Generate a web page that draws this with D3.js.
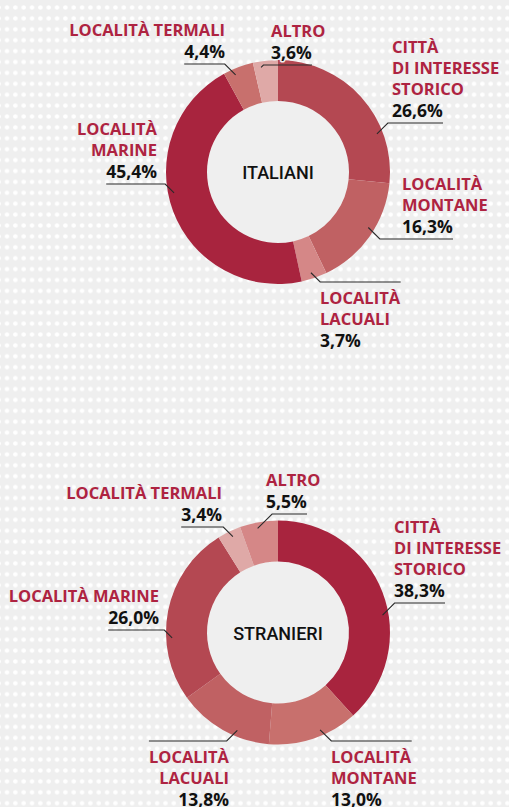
<!DOCTYPE html>
<html>
<head>
<meta charset="utf-8">
<script src="https://cdn.jsdelivr.net/npm/d3@7/dist/d3.min.js"></script>
<style>
  html, body { margin: 0; padding: 0; background: #efefef; }
  svg { display: block; }
</style>
</head>
<body>
<svg id="chart" width="509" height="807"></svg>
<script>
// Destinazioni dei turisti per tipologia di località (%)
const categories = [
  "CITTÀ DI INTERESSE STORICO",
  "LOCALITÀ MONTANE",
  "LOCALITÀ LACUALI",
  "LOCALITÀ MARINE",
  "LOCALITÀ TERMALI",
  "ALTRO"
];
const groups = ["ITALIANI", "STRANIERI"];
const italiani = [26.6, 16.3, 3.7, 45.4, 4.4, 3.6];
const stranieri = [38.3, 13.0, 13.8, 26.0, 3.4, 5.5];

// Shades from darkest (largest share) to lightest
const shades = ["#a8243e", "#b44852", "#c06163", "#c8706d", "#d58787", "#dfa9a7"];

const W = 509, H = 807;
const BG = "#efefef";
const RED = "#ae2341";
const LINE_H = 21;
const outerR = 112, innerR = 71, leaderR = 106;
const LABEL_FONT = "'Open Sans', 'Noto Sans', sans-serif";

// Label layout per donut: text lines, anchor, first baseline, where on the slice the leader lands
const layouts = {
  ITALIANI: {
    cx: 278, cy: 172,
    labels: [
      { lines: ["CITTÀ", "DI INTERESSE", "STORICO"], x: 392, y: 53, anchor: "start", side: "above", t: 0.72 },
      { lines: ["LOCALITÀ", "MONTANE"], x: 402, y: 190, anchor: "start", side: "above", t: 0.44 },
      { lines: ["LOCALITÀ", "LACUALI"], x: 320, y: 304, anchor: "start", side: "below", t: 0.56 },
      { lines: ["LOCALITÀ", "MARINE"], x: 157, y: 135, anchor: "end", side: "above", t: 0.556 },
      { lines: ["LOCALITÀ TERMALI"], x: 225, y: 36, anchor: "end", side: "above", t: 0.33 },
      { lines: ["ALTRO"], x: 271, y: 37, anchor: "start", side: "above", t: 0.29 }
    ]
  },
  STRANIERI: {
    cx: 278, cy: 632.5,
    labels: [
      { lines: ["CITTÀ", "DI INTERESSE", "STORICO"], x: 394, y: 533, anchor: "start", side: "above", t: 0.584 },
      { lines: ["LOCALITÀ", "MONTANE"], x: 331, y: 763, anchor: "start", side: "below", t: 0.40 },
      { lines: ["LOCALITÀ", "LACUALI"], x: 229, y: 763, anchor: "end", side: "below", t: 0.36 },
      { lines: ["LOCALITÀ MARINE"], x: 159, y: 602, anchor: "end", side: "above", t: 0.35 },
      { lines: ["LOCALITÀ TERMALI"], x: 222, y: 499, anchor: "end", side: "above", t: 0.56 },
      { lines: ["ALTRO"], x: 266, y: 486, anchor: "start", side: "above", t: 0.44 }
    ]
  }
};

const fmt = v => d3.format(".1f")(v).replace(".", ",") + "%";

const svg = d3.select("#chart");

// Dotted backdrop
const defs = svg.append("defs");
const dx = 8.34, dy = 10.9;
const pat = defs.append("pattern")
  .attr("id", "dots")
  .attr("patternUnits", "userSpaceOnUse")
  .attr("x", 7 - dx / 2).attr("y", 7.5 - dy / 2)
  .attr("width", dx).attr("height", dy);
pat.append("rect").attr("width", dx).attr("height", dy).attr("fill", BG);
pat.append("circle").attr("cx", dx / 2).attr("cy", dy / 2).attr("r", 2.3).attr("fill", "#ffffff");
svg.append("rect").attr("width", W).attr("height", H).attr("fill", "url(#dots)");

const pie = d3.pie().sort(null).value(d => d.value);
const arc = d3.arc().innerRadius(innerR).outerRadius(outerR);

function drawDonut(name, values) {
  const lay = layouts[name];
  const data = categories.map((c, i) => ({ cat: c, value: values[i], i }));
  // rank -> shade
  const order = data.slice().sort((a, b) => b.value - a.value).map(d => d.i);
  const color = i => shades[order.indexOf(i)];

  const g = svg.append("g").attr("transform", `translate(${lay.cx},${lay.cy})`);
  const arcs = pie(data);

  g.append("circle").attr("r", innerR).attr("fill", BG);

  g.selectAll("path.slice")
    .data(arcs)
    .join("path")
    .attr("class", "slice")
    .attr("d", arc)
    .attr("fill", d => color(d.data.i));

  g.append("text")
    .attr("text-anchor", "middle")
    .attr("y", 7)
    .attr("font-family", "Roboto, 'Noto Sans', sans-serif")
    .attr("font-size", 18)
    .attr("font-weight", 500)
    .attr("fill", "#111")
    .text(name);

  // Labels + leaders
  const lg = svg.append("g");
  arcs.forEach((a, k) => {
    const L = lay.labels[k];
    const txt = lg.append("text")
      .attr("text-anchor", L.anchor)
      .attr("font-family", LABEL_FONT)
      .attr("font-weight", 700)
      .attr("stroke", BG).attr("stroke-width", 3)
      .attr("paint-order", "stroke")
      .attr("stroke-linejoin", "round");
    const nameSpans = L.lines.map((ln, j) =>
      txt.append("tspan").attr("x", L.x).attr("y", L.y + j * LINE_H)
        .attr("font-size", 16.5).attr("fill", RED).text(ln));
    const pctY = L.y + L.lines.length * LINE_H + 1;
    const pct = txt.append("tspan").attr("x", L.x).attr("y", pctY)
      .attr("font-size", 17.5).attr("fill", "#111")
      .text(fmt(a.data.value));

    // Leader end point on the slice
    const ang = a.startAngle + L.t * (a.endAngle - a.startAngle);
    const ex = lay.cx + leaderR * Math.sin(ang);
    const ey = lay.cy - leaderR * Math.cos(ang);
    const lineY = L.side === "above" ? pctY + 6 : L.y - 22;
    const dir = L.anchor === "end" ? -1 : 1;
    const bx = ex + dir * Math.abs(lineY - ey);
    const ref = (L.side === "above" ? pct : nameSpans[0]).node().getBBox();
    const farX = L.anchor === "end" ? ref.x : ref.x + ref.width;

    lg.append("path")
      .attr("d", `M${ex},${ey}L${bx},${lineY}L${farX},${lineY}`)
      .attr("fill", "none")
      .attr("stroke", "#2a2a2a")
      .attr("stroke-width", 1.1);
    txt.raise();
  });
}

drawDonut("ITALIANI", italiani);
drawDonut("STRANIERI", stranieri);
</script>
</body>
</html>
